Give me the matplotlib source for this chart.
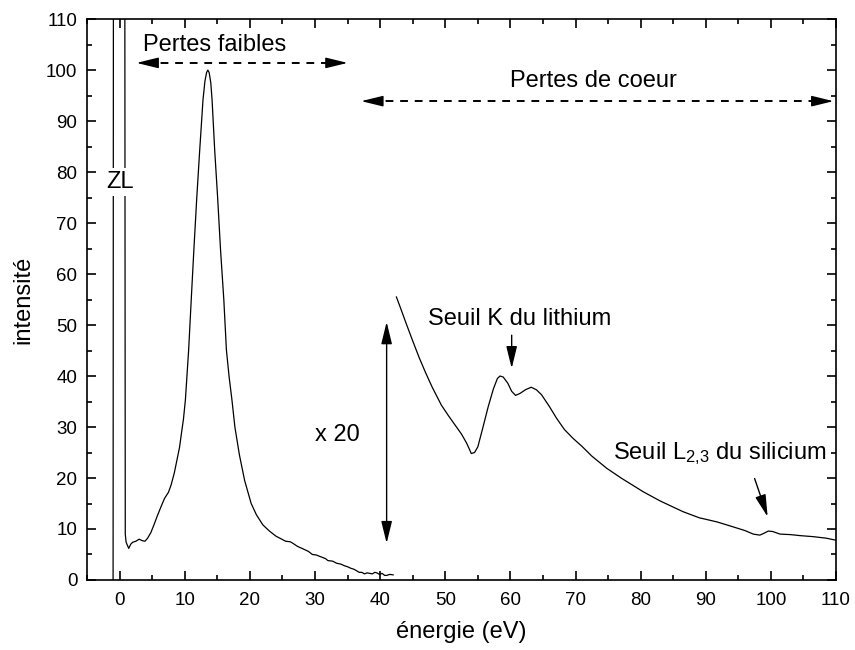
import matplotlib
matplotlib.use('Agg')
import matplotlib.pyplot as plt
from matplotlib.ticker import MultipleLocator

plt.rcParams['font.family'] = ['Liberation Sans', 'DejaVu Sans']
plt.rcParams['mathtext.default'] = 'regular'

# pertes faibles (pic ZL + plasmon), x en eV
ll_x = [-1.0, -0.95, 0.8, 0.87, 1.0, 1.4, 1.7, 2.0, 2.5, 3.0, 3.5, 3.9, 4.3, 4.8,
        5.3, 5.8, 6.4, 6.9, 7.5, 7.9, 8.4, 8.8, 9.2, 9.5, 9.8, 10.1, 10.6, 11.0,
        11.4, 11.85, 12.3, 12.8, 13.1, 13.35, 13.55, 13.75, 14.0, 14.2, 14.6, 15.05,
        15.5, 16.0, 16.4, 16.8, 17.25, 17.7, 18.4, 19.2, 20.2, 21.0, 22.0, 23.0,
        24.0, 24.6, 25.5, 26.2, 26.6, 27.3, 28.0, 29.0, 29.6, 30.2, 31.0, 31.6,
        32.0, 32.7, 33.3, 34.0, 34.5, 35.0, 35.5, 36.0, 36.4, 36.8, 37.2, 37.6,
        38.0, 38.4, 38.8, 39.2, 39.5, 39.9, 40.3, 40.7, 41.0, 41.5, 42.0]
ll_y = [0, 120, 120, 9.0, 7.4, 6.2, 7.0, 7.4, 7.6, 8.0, 7.7, 7.6, 8.2, 9.3,
        10.9, 12.6, 14.5, 16.0, 17.2, 18.6, 21.0, 23.5, 26.0, 28.8, 31.5, 35.3, 45.1, 55,
        64.7, 75, 84.3, 94.1, 97.8, 99.5, 100, 99.5, 97.5, 94.1, 84.3, 75,
        64.7, 55, 45.1, 40, 35.3, 30, 24.5, 19.5, 15.0, 12.8, 10.8, 9.6,
        8.6, 8.2, 7.6, 7.5, 7.2, 6.6, 6.2, 5.6, 5.0, 4.9, 4.5, 4.2,
        3.8, 3.7, 3.3, 3.1, 2.8, 2.6, 2.3, 2.1, 1.8, 1.5, 1.5, 1.2,
        1.4, 1.3, 1.2, 1.5, 1.4, 1.1, 1.3, 0.9, 0.9, 1.1, 1.0]

# pertes de coeur (x 20)
cl_x = [42.5, 43.0, 44.0, 45.0, 46.0, 47.0, 48.0, 49.4, 50.5, 51.5, 52.5, 53.3,
        54.0, 54.5, 55.0, 55.7, 56.6, 57.4, 58.0, 58.4, 58.9, 59.6, 60.2, 60.8,
        61.5, 62.3, 63.2, 64.0, 64.8, 66.0, 67.1, 68.3, 69.6, 71.0, 72.5, 74.8,
        77.0, 80.4, 83.0, 86.5, 89.0, 91.7, 94.0, 96.0, 97.3, 98.3, 99.0, 99.6,
        100.3, 101.4, 103.0, 104.5, 106.5, 108.5, 110.0]
cl_y = [55.5, 53.8, 50.3, 46.9, 43.6, 40.6, 37.8, 34.3, 32.2, 30.4, 28.6, 26.8,
        24.8, 25.0, 26.1, 29.5, 34.0, 37.5, 39.5, 40.0, 39.8, 38.6, 37.0, 36.2,
        36.6, 37.3, 37.8, 37.3, 36.3, 34.0, 31.7, 29.5, 27.8, 26.2, 24.3, 21.9,
        20.0, 17.3, 15.5, 13.4, 12.2, 11.4, 10.5, 9.7, 9.0, 8.8, 9.2, 9.6,
        9.5, 9.0, 8.9, 8.7, 8.5, 8.2, 7.8]

fig = plt.figure(figsize=(8.55, 6.5), dpi=100)
ax = fig.add_axes([0.1018, 0.1077, 0.876, 0.863])

ax.plot(ll_x, ll_y, color='black', lw=0.9)
ax.plot(cl_x, cl_y, color='black', lw=0.9)

ax.set_xlim(-5, 110)
ax.set_ylim(0, 110)
ax.xaxis.set_major_locator(MultipleLocator(10))
ax.xaxis.set_minor_locator(MultipleLocator(5))
ax.yaxis.set_major_locator(MultipleLocator(10))
ax.yaxis.set_minor_locator(MultipleLocator(5))
ax.tick_params(which='both', direction='in', top=True, right=True, width=1.2, labelsize=13.5)
ax.tick_params(which='major', length=6.5)
ax.tick_params(which='minor', length=3.5)
ax.tick_params(axis='x', pad=9)
ax.tick_params(axis='y', pad=7)
for s in ax.spines.values():
    s.set_linewidth(1.2)

ax.set_xlabel('énergie (eV)', fontsize=17, labelpad=8)
ax.set_ylabel('intensité', fontsize=17, labelpad=8)

head = dict(arrowstyle='-|>, head_length=0.9, head_width=0.22', color='black',
            lw=1.0, mutation_scale=15, shrinkA=0, shrinkB=0)

# fleches en tirets : ligne + deux pointes pleines
for x0, x1, y in [(2.6, 35.0, 101.4), (37.1, 109.6, 93.9)]:
    ax.plot([x0 + 1.5, x1 - 1.5], [y, y], color='black', lw=1.4, dashes=(4, 3.5))
    ax.annotate('', xy=(x0, y), xytext=(x0 + 1.6, y), arrowprops=head)
    ax.annotate('', xy=(x1, y), xytext=(x1 - 1.6, y), arrowprops=head)
ax.text(14.6, 105, 'Pertes faibles', fontsize=17, ha='center', va='center')
ax.text(72.7, 97.9, 'Pertes de coeur', fontsize=17, ha='center', va='center')

both = dict(head, arrowstyle='<|-|>, head_length=0.9, head_width=0.22')
ax.annotate('', xy=(41.0, 50.6), xytext=(41.0, 7.2), arrowprops=both)
ax.text(33.5, 28.4, 'x 20', fontsize=17, ha='center', va='center')

ax.annotate('', xy=(60.2, 41.5), xytext=(60.2, 48.0), arrowprops=head)
ax.text(61.4, 51.2, 'Seuil K du lithium', fontsize=17, ha='center', va='center')
ax.annotate('', xy=(99.5, 12.4), xytext=(97.5, 19.9), arrowprops=head)
ax.text(92.2, 24.7, 'Seuil L$_{2{,}3}$ du silicium', fontsize=17, ha='center', va='center')

ax.text(0, 78, 'ZL', fontsize=17, ha='center', va='center',
        bbox=dict(facecolor='white', edgecolor='none', pad=2))

fig.savefig('out.png', dpi=100)
